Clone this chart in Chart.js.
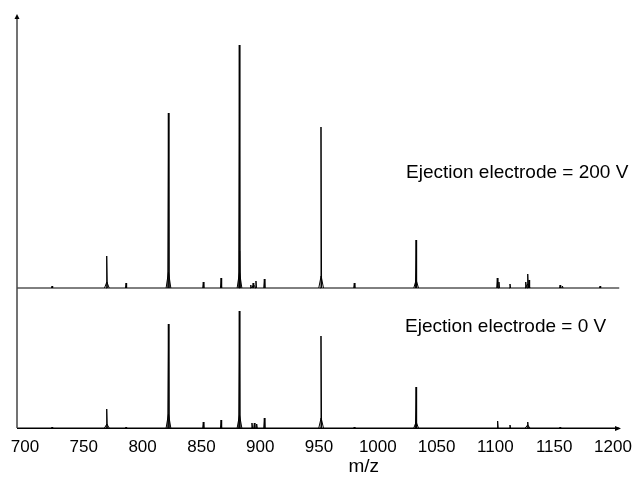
<!DOCTYPE html>
<html>
<head>
<meta charset="utf-8">
<script src="https://cdn.jsdelivr.net/npm/chart.js@4/dist/chart.umd.min.js"></script>
<style>
  html, body { margin: 0; padding: 0; background: #fff; }
  #wrap { width: 635px; height: 485px; }
</style>
</head>
<body>
<div id="wrap"><canvas id="spec" width="635" height="485"></canvas></div>
<script>
// m/z axis
const xMin = 693.2;
const xMax = 1206.8;
const xTicks = [700, 750, 800, 850, 900, 950, 1000, 1050, 1100, 1150, 1200];

// intensities (arb. units), each trace above its own baseline
const topOffset = 140;
const yMax = 413;

// Ejection electrode = 200 V
const topMz     = [723, 769.5, 785.9, 821.9, 851.6, 866.7, 882.2, 882.5, 892, 894, 896.4, 903.5, 951.7, 980, 1032.5, 1101.6, 1103, 1112.4, 1125.8, 1127.5, 1128.6, 1155, 1157, 1189];
const topInt    = [2,   32,    5,     175,   6,     10,    243,   37,    3,   5,   7,     9,     161,   5,   48,     10,     6,    4,      6,      14,     8,      3,    2,    2];
const topShMz   = [769.6, 822.0, 882.4, 894.5, 951.8, 1032.6, 1127.4];
const topShInt  = [6,     16,    16,    3,     12,    8,      4];

// Ejection electrode = 0 V
const botMz     = [723, 769.5, 785.9, 821.9, 851.6, 866.7, 882.2, 893, 895, 897, 903.5, 951.7, 980, 1032.5, 1101.9, 1112.4, 1127.5, 1155];
const botInt    = [1,   19,    1,     104,   6,     8,     117,   5,   5,   4,   10,    92,    1,   41,     7,      3,      6,      1];
const botShMz   = [769.6, 822.0, 882.4, 951.8, 1032.6, 1127.4];
const botShInt  = [4,     14,    13,    10,    6,      3];

const traceLabels = ["Ejection electrode = 200 V", "Ejection electrode = 0 V"];

const spikeW = 0.5;
const shoulderW = 2.0;

function peaks(mz, inten, base, w) {
  const pts = [];
  mz.forEach((m, i) => {
    pts.push({ x: m - w, y: base });
    pts.push({ x: m, y: base + inten[i] });
    pts.push({ x: m + w, y: base });
    pts.push({ x: m + w, y: null });
  });
  return pts;
}

function trace(mz, inten, shMz, shInt, base) {
  return [
    { data: [{ x: xMin, y: base }, { x: xMax - 1.5, y: base }] },
    { data: peaks(shMz, shInt, base, shoulderW) },
    { data: peaks(mz, inten, base, spikeW) }
  ];
}

const datasets = [
  ...trace(topMz, topInt, topShMz, topShInt, topOffset),
  ...trace(botMz, botInt, botShMz, botShInt, 0)
].map(d => ({
  ...d,
  showLine: true,
  spanGaps: false,
  borderColor: "#000",
  backgroundColor: "#000",
  borderWidth: 1,
  pointRadius: 0,
  tension: 0
}));

const FONT = "'Liberation Sans', Arial, Helvetica, sans-serif";

const axesPlugin = {
  id: "axes",
  afterDraw(chart) {
    const { ctx, chartArea: a, scales } = chart;
    ctx.save();
    // y axis
    ctx.strokeStyle = "#444";
    ctx.lineWidth = 1.5;
    ctx.beginPath();
    ctx.moveTo(a.left, a.bottom);
    ctx.lineTo(a.left, a.top + 2);
    ctx.stroke();
    ctx.fillStyle = "#000";
    ctx.beginPath();
    ctx.moveTo(a.left, a.top - 1);
    ctx.lineTo(a.left - 2.5, a.top + 4);
    ctx.lineTo(a.left + 2.5, a.top + 4);
    ctx.closePath();
    ctx.fill();
    // x axis
    ctx.strokeStyle = "#000";
    ctx.lineWidth = 1;
    ctx.beginPath();
    ctx.moveTo(a.left, a.bottom + 0.5);
    ctx.lineTo(a.right - 2, a.bottom + 0.5);
    ctx.stroke();
    ctx.beginPath();
    ctx.moveTo(a.right, a.bottom + 0.5);
    ctx.lineTo(a.right - 6, a.bottom - 2);
    ctx.lineTo(a.right - 6, a.bottom + 3);
    ctx.closePath();
    ctx.fill();
    // trace labels
    ctx.font = "19px " + FONT;
    ctx.textBaseline = "alphabetic";
    ctx.textAlign = "left";
    ctx.fillText(traceLabels[0], 406, 178);
    ctx.fillText(traceLabels[1], 405, 332);
    // axis title
    ctx.textAlign = "center";
    ctx.font = "19px " + FONT;
    ctx.fillText("m/z", scales.x.getPixelForValue(988), 472);
    ctx.restore();
  }
};

new Chart(document.getElementById("spec").getContext("2d"), {
  type: "scatter",
  data: { datasets },
  options: {
    responsive: false,
    animation: false,
    layout: { padding: { left: 17, right: 14, top: 15, bottom: 0 } },
    plugins: { legend: { display: false }, tooltip: { enabled: false } },
    scales: {
      x: {
        type: "linear",
        min: xMin,
        max: xMax,
        afterBuildTicks: (s) => { s.ticks = xTicks.map(v => ({ value: v })); },
        afterFit: (s) => { s.height = 57; s.paddingLeft = 0; s.paddingRight = 0; },
        grid: { display: false, drawTicks: false },
        border: { display: false },
        ticks: {
          color: "#000",
          padding: 9,
          maxRotation: 0,
          autoSkip: false,
          font: { family: FONT, size: 17 },
          callback: (v) => String(v)
        }
      },
      y: {
        display: false,
        min: 0,
        max: yMax
      }
    }
  },
  plugins: [axesPlugin]
});
</script>
</body>
</html>
